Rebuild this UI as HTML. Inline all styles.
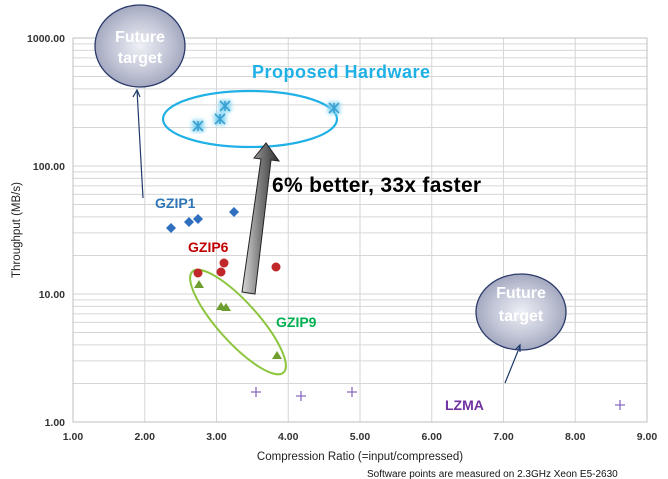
<!DOCTYPE html>
<html><head><meta charset="utf-8"><style>
body{margin:0;background:#fff}
svg{display:block;font-family:"Liberation Sans",sans-serif}
</style></head><body>
<svg width="668" height="479" viewBox="0 0 668 479" xmlns="http://www.w3.org/2000/svg">
<defs>
<radialGradient id="fg" cx="50%" cy="50%" r="50%">
<stop offset="0" stop-color="#eef0f5"/><stop offset="0.6" stop-color="#c4c8d8"/><stop offset="1" stop-color="#a4a9c0"/></radialGradient>
<linearGradient id="ag" x1="0" x2="1"><stop offset="0" stop-color="#d8d8d8"/><stop offset="0.5" stop-color="#7a7a7a"/><stop offset="1" stop-color="#303030"/></linearGradient>
<filter id="gl"><feGaussianBlur stdDeviation="2"/></filter>
</defs>
<g stroke="#d6d6d6" stroke-width="1" id="grid"></g>
<rect x="73" y="38" width="574" height="384" fill="none" stroke="#bfbfbf"/>
<g font-size="10.5" font-weight="bold" fill="#333" text-anchor="end">
<text x="65" y="42">1000.00</text><text x="65" y="170">100.00</text><text x="65" y="298">10.00</text><text x="65" y="426">1.00</text>
</g>
<g font-size="10.5" font-weight="bold" fill="#333" text-anchor="middle" id="xl"></g>
<text transform="translate(20,230) rotate(-90)" font-size="11.5" fill="#222" text-anchor="middle">Throughput (MB/s)</text>
<text x="360" y="460" font-size="11.5" fill="#222" text-anchor="middle">Compression Ratio  (=input/compressed)</text>
<text x="367" y="477" font-size="10" fill="#111">Software  points are measured on 2.3GHz Xeon E5-2630</text>

<ellipse cx="250" cy="119" rx="87" ry="28" fill="none" stroke="#1fb0e6" stroke-width="2.2"/>
<ellipse cx="238" cy="322" rx="68" ry="20" transform="rotate(48 238 322)" fill="none" stroke="#8cc63f" stroke-width="2"/>

<g fill="#2e6fc0"><path d="M171 223l5 5-5 5-5-5z"/><path d="M189 217l5 5-5 5-5-5z"/><path d="M198 214l5 5-5 5-5-5z"/><path d="M234 207l5 5-5 5-5-5z"/></g>
<g fill="#c0282a"><circle cx="198" cy="273" r="4.5"/><circle cx="224" cy="263" r="4.5"/><circle cx="221" cy="272" r="4.5"/><circle cx="276" cy="267" r="4.5"/></g>
<g fill="#6f9e30"><path d="M199 280l5 8h-10z"/><path d="M221 302l5 8h-10z"/><path d="M226 303l5 8h-10z"/><path d="M277 351l5 8h-10z"/></g>
<g stroke="#8a6cbf" stroke-width="1.3"><path d="M251 392h10M256 387v10M296 396h10M301 391v10M347 392h10M352 387v10M615 405h10M620 400v10"/></g>
<g stroke="#7fd3f3" stroke-width="6" filter="url(#gl)"><path d="M193 121l10 10M203 121l-10 10M215 114l10 10M225 114l-10 10M220 101l10 10M230 101l-10 10M329 103l10 10M339 103l-10 10"/></g>
<g stroke="#3aa0d0" stroke-width="1.6"><path d="M193 121l10 10M203 121l-10 10M198 121v10M215 114l10 10M225 114l-10 10M220 114v10M220 101l10 10M230 101l-10 10M225 101v10M329 103l10 10M339 103l-10 10M334 103v10"/></g>

<polygon points="242,292 255,294 271,160 279,161 266,143 254,158 261,159" fill="url(#ag)" stroke="#222" stroke-width="1"/>

<ellipse cx="140" cy="46" rx="45" ry="41" fill="url(#fg)" stroke="#2a3a6a" stroke-width="1.3"/>
<text x="140" y="42" font-size="16" font-weight="bold" fill="#fff" text-anchor="middle">Future</text>
<text x="140" y="63" font-size="16" font-weight="bold" fill="#fff" text-anchor="middle">target</text>
<ellipse cx="521" cy="312" rx="45" ry="38" fill="url(#fg)" stroke="#2a3a6a" stroke-width="1.3"/>
<text x="521" y="298" font-size="16" font-weight="bold" fill="#fff" text-anchor="middle">Future</text>
<text x="521" y="321" font-size="16" font-weight="bold" fill="#fff" text-anchor="middle">target</text>
<g stroke="#1f3a6a" stroke-width="1.2" fill="none"><path d="M143 198L137 90M133 97l4-7 3 7"/><path d="M505 383L520 346M515 350l5-5 0 7"/></g>

<text x="252" y="78" font-size="18" font-weight="bold" fill="#1fb0e6" letter-spacing="0.5">Proposed Hardware</text>
<text x="272" y="192" font-size="21" font-weight="bold" fill="#000" letter-spacing="0.3">6% better, 33x faster</text>
<text x="155" y="208" font-size="14" font-weight="bold" fill="#2e75b6">GZIP1</text>
<text x="188" y="252" font-size="14" font-weight="bold" fill="#c00000">GZIP6</text>
<text x="276" y="327" font-size="14" font-weight="bold" fill="#00b050">GZIP9</text>
<text x="445" y="410" font-size="14" font-weight="bold" fill="#7030a0">LZMA</text>
</svg>
<script>
var g=document.getElementById('grid'),s='';
for(var d=0;d<3;d++)for(var k=1;k<=10;k++){var y=422-128*(d+Math.log10(k));s+='<line x1="73" x2="647" y1="'+y+'" y2="'+y+'"/>';}
for(var i=1;i<=9;i++){var x=73+71.75*(i-1);s+='<line y1="38" y2="422" x1="'+x+'" x2="'+x+'"/>';}
g.innerHTML=s;
var t='';for(var i=1;i<=9;i++){t+='<text x="'+(73+71.75*(i-1))+'" y="440">'+i+'.00</text>';}
document.getElementById('xl').innerHTML=t;
</script>
</body></html>
